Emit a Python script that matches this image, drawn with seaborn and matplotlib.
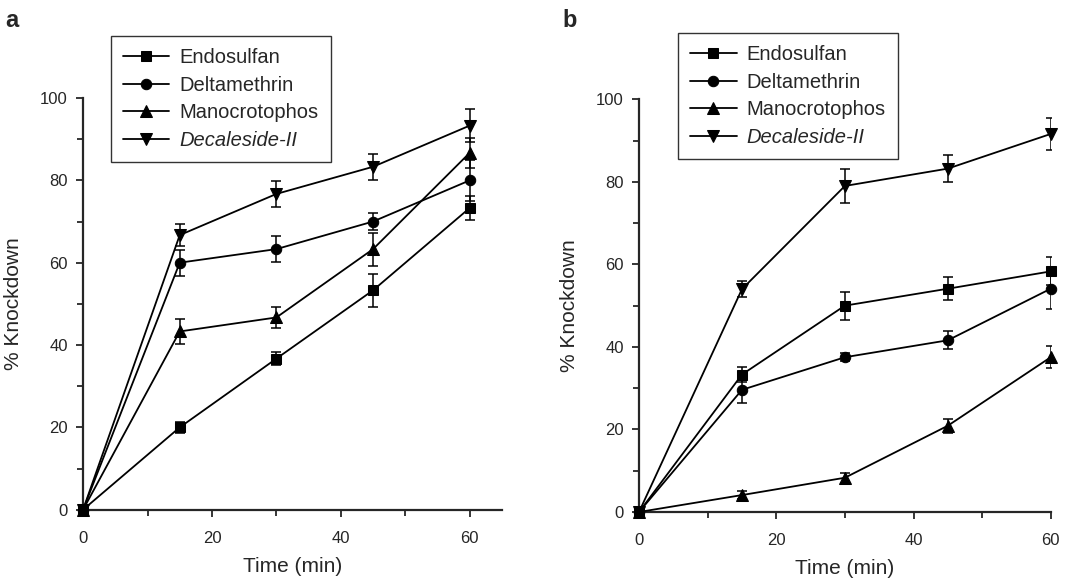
import matplotlib
matplotlib.use("Agg")
import matplotlib.pyplot as plt
from matplotlib.ticker import MultipleLocator
import seaborn as sns
import pandas as pd
import numpy as np

sns.set_style("ticks")
plt.rcParams["font.family"] = ["Liberation Sans", "DejaVu Sans"]

time_min = [0, 15, 30, 45, 60]
insecticides = ["Endosulfan", "Deltamethrin", "Manocrotophos", "Decaleside-II"]
markers = ["s", "o", "^", "v"]
marker_sizes = [6.5, 7.5, 8, 8]

# Panel a: mean % knockdown and standard error
a_endosulfan = [0, 20.0, 36.7, 53.3, 73.3]
a_deltamethrin = [0, 60.0, 63.3, 70.0, 80.0]
a_manocrotophos = [0, 43.3, 46.7, 63.3, 86.7]
a_decaleside = [0, 66.7, 76.7, 83.3, 93.3]
a_endosulfan_err = [0, 1.3, 1.5, 4.0, 3.0]
a_deltamethrin_err = [0, 3.2, 3.2, 2.0, 5.0]
a_manocrotophos_err = [0, 3.0, 2.5, 4.0, 3.7]
a_decaleside_err = [0, 2.6, 3.1, 3.2, 4.0]

# Panel b
b_endosulfan = [0, 33.3, 50.0, 54.1, 58.3]
b_deltamethrin = [0, 29.6, 37.5, 41.6, 54.1]
b_manocrotophos = [0, 4.1, 8.3, 20.9, 37.5]
b_decaleside = [0, 54.0, 79.0, 83.2, 91.6]
b_endosulfan_err = [0, 1.9, 3.4, 2.8, 3.4]
b_deltamethrin_err = [0, 3.3, 1.0, 2.2, 4.8]
b_manocrotophos_err = [0, 1.0, 1.2, 1.7, 2.6]
b_decaleside_err = [0, 2.0, 4.1, 3.3, 3.8]

panels = {
    "a": ([a_endosulfan, a_deltamethrin, a_manocrotophos, a_decaleside],
          [a_endosulfan_err, a_deltamethrin_err, a_manocrotophos_err, a_decaleside_err]),
    "b": ([b_endosulfan, b_deltamethrin, b_manocrotophos, b_decaleside],
          [b_endosulfan_err, b_deltamethrin_err, b_manocrotophos_err, b_decaleside_err]),
}

fig = plt.figure(figsize=(10.8, 5.83), dpi=100)
axes_rects = {
    "a": [0.0769, 0.1257, 0.3879, 0.7062],
    "b": [0.5917, 0.1218, 0.3812, 0.7079],
}
xlims = {"a": (0, 65), "b": (0, 60)}
legend_boxes = {"a": (0.1028, 0.938), "b": (0.628, 0.943)}
letter_pos = {"a": (0.005, 0.985), "b": (0.521, 0.985)}

for key, (means, errs) in panels.items():
    ax = fig.add_axes(axes_rects[key])
    for name, vals, err, m, ms in zip(insecticides, means, errs, markers, marker_sizes):
        df = pd.DataFrame({"Time (min)": time_min, "Knockdown": vals})
        ax.errorbar(time_min, vals, yerr=err, fmt="none", ecolor="black",
                    elinewidth=1.1, capsize=3.5, capthick=1.1, zorder=2)
        sns.lineplot(data=df, x="Time (min)", y="Knockdown", ax=ax,
                     color="black", linewidth=1.3, marker=m, markersize=ms,
                     markeredgecolor="black", markerfacecolor="black",
                     label=name, clip_on=False, zorder=3)
    ax.set_xlim(*xlims[key])
    ax.set_ylim(0, 100)
    ax.xaxis.set_major_locator(MultipleLocator(20))
    ax.xaxis.set_minor_locator(MultipleLocator(10))
    ax.yaxis.set_major_locator(MultipleLocator(20))
    ax.yaxis.set_minor_locator(MultipleLocator(10))
    ax.tick_params(axis="both", which="major", direction="out", length=5,
                   width=1.3, labelsize=12, pad=6)
    ax.tick_params(axis="both", which="minor", direction="out", length=4, width=1.3)
    ax.tick_params(axis="x", which="major", pad=10)
    for side in ["top", "right"]:
        ax.spines[side].set_visible(False)
    for side in ["left", "bottom"]:
        ax.spines[side].set_linewidth(1.6)
    ax.set_xlabel("Time (min)", fontsize=15, labelpad=8)
    ax.set_ylabel("% Knockdown", fontsize=15, labelpad=12)

    leg = ax.legend(loc="upper left", bbox_to_anchor=legend_boxes[key],
                    bbox_transform=fig.transFigure, frameon=True, fancybox=False,
                    edgecolor="black", fontsize=14.5, handlelength=2.3,
                    handletextpad=0.5, labelspacing=0.42, borderpad=0.6,
                    borderaxespad=0)
    leg.get_frame().set_linewidth(1.0)
    for t in leg.get_texts():
        if t.get_text() == "Decaleside-II":
            t.set_fontstyle("italic")
    fig.text(*letter_pos[key], key, fontsize=17, fontweight="bold", va="top")

fig.savefig("out.png", dpi=100)
